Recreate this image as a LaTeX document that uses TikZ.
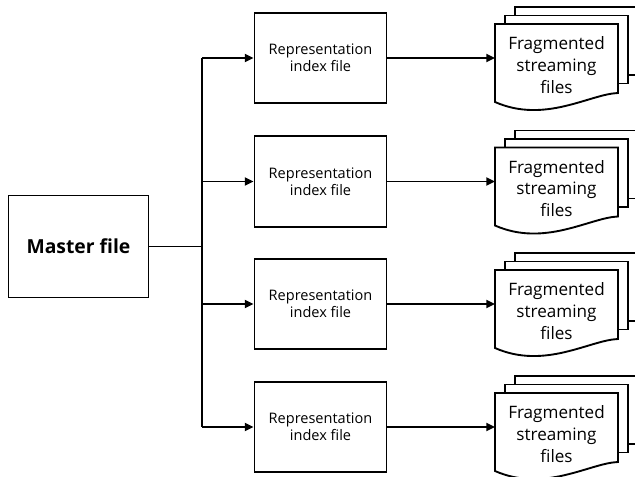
\documentclass[tikz,border=0pt]{standalone}
\usepackage{fontspec}
\setmainfont{Open Sans}
\usetikzlibrary{arrows.meta}

\begin{document}
\begin{tikzpicture}[x=0.03cm, y=-0.03cm,
    box/.style={draw, line width=1.6pt, fill=white, align=center},
    masterbox/.style={box, minimum width=4.2cm, minimum height=3.06cm,
      font=\fontsize{16.5}{19}\selectfont\bfseries},
    repbox/.style={box, minimum width=3.96cm, minimum height=2.72cm,
      font=\fontsize{12.4}{14.6}\selectfont},
    page/.style={draw, line width=1.6pt, fill=white},
    fragtext/.style={align=center, font=\fontsize{14.6}{18.6}\selectfont},
    conn/.style={line width=1.6pt, -{Triangle[length=2.6mm, width=2.4mm]}}]
  \useasboundingbox (0,0) rectangle (635,477);

  \node[masterbox] (master) at (78.5,246.5) {Master file};
  \coordinate (joint) at (202,246.5);
  \draw[line width=1.6pt] (master.east) -- (joint);

  \foreach \i/\y in {1/58, 2/181.5, 3/304, 4/427} {
    \node[repbox] (rep\i) at (320.5,\y) {Representation\\index file};
    \coordinate (s\i) at (202,\y);
    \begin{scope}[shift={(495,\y)}]
      \draw[page] (20,-51) rectangle (143,17);
      \draw[page] (10,-42.5) rectangle (133,25.5);
      \draw[page] (0,-34) -- (123,-34) -- (123,35)
        .. controls (95,36) and (50,66) .. (0,44) -- cycle;
      \coordinate (d\i) at (0,0);
      \node[fragtext] (frag\i) at (61.5,7) {Fragmented\\streaming\\files};
    \end{scope}
    \draw[conn] (s\i) -- (rep\i.west);
    \draw[conn] (rep\i.east) -- (d\i);
  }
  \draw[line width=1.6pt] (s1) -- (s4);
\end{tikzpicture}
\end{document}
